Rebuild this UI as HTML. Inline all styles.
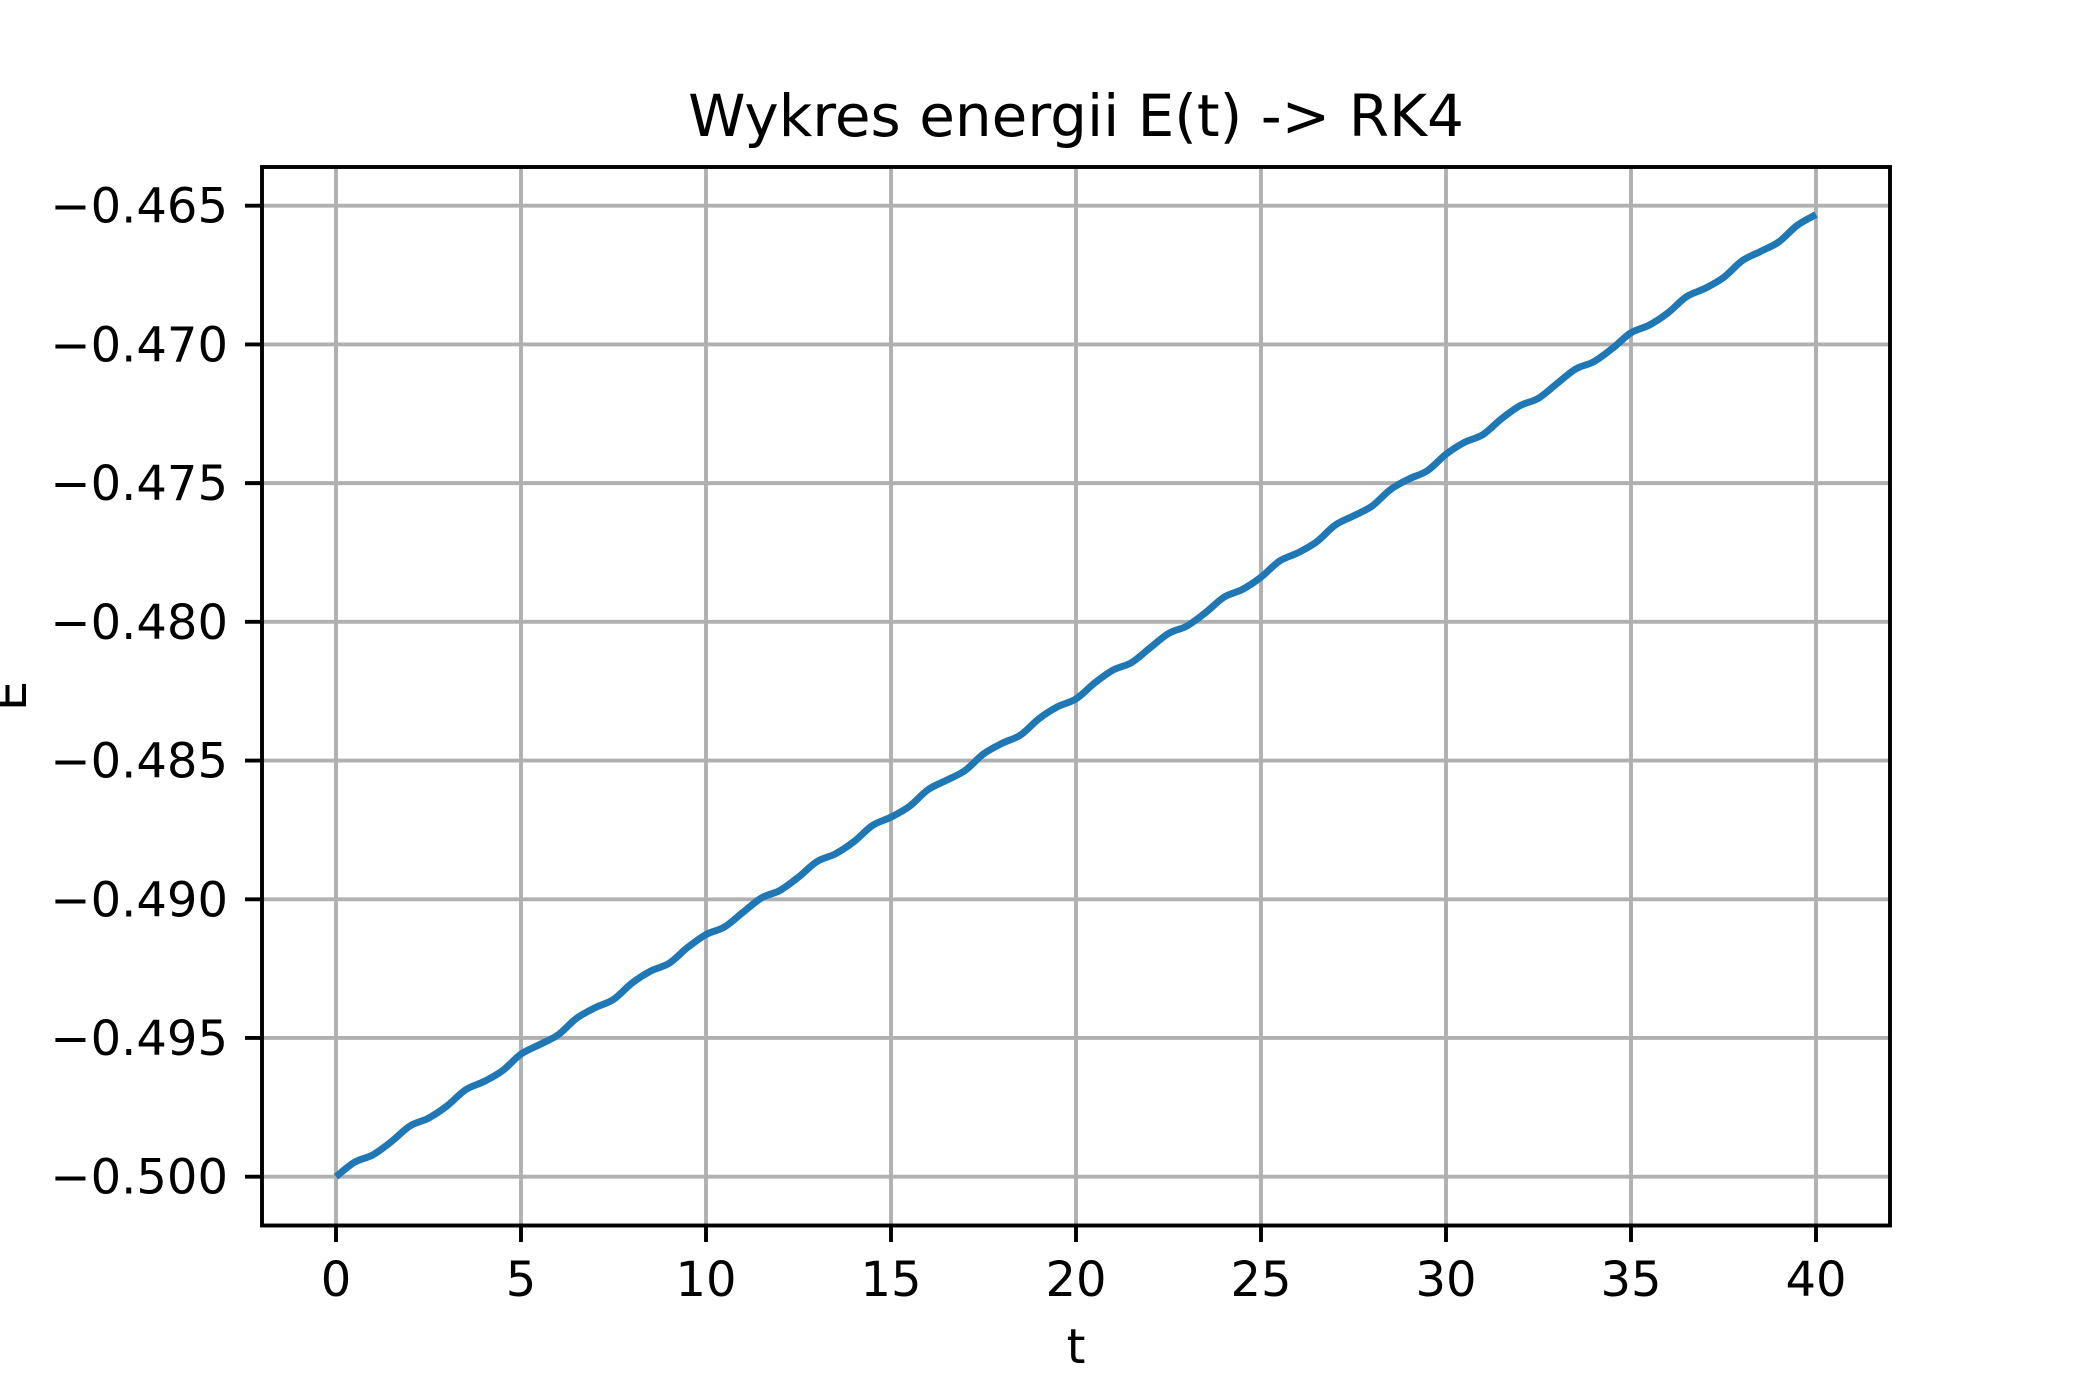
<!DOCTYPE html>
<html><head><meta charset="utf-8"><style>
html,body{margin:0;padding:0;background:#fff;}
svg{display:block;font-family:"DejaVu Sans","Liberation Sans",sans-serif;}
</style></head><body>
<svg id="chart" width="2100" height="1400" viewBox="0 0 2100 1400" xmlns="http://www.w3.org/2000/svg">
<rect width="2100" height="1400" fill="#fff"/>
<g id="grid"></g>
<g id="series"></g>
<rect x="262" y="167" width="1628" height="1058.5" fill="none" stroke="#000" stroke-width="3.9"/>
<g id="ticks"></g>
<text x="1076" y="136" font-size="58" text-anchor="middle">Wykres energii E(t) -&gt; RK4</text>
<text x="1076" y="1363" font-size="48" text-anchor="middle">t</text>
<text x="0" y="0" font-size="48" text-anchor="middle" transform="translate(26,696) rotate(-90)">E</text>
</svg>
<script>
const xTicks=[0,5,10,15,20,25,30,35,40];
const yTicks=[-0.500,-0.495,-0.490,-0.485,-0.480,-0.475,-0.470,-0.465];
const yTickLabels=["−0.500","−0.495","−0.490","−0.485","−0.480","−0.475","−0.470","−0.465"];
const tValues=[0,0.5,1,1.5,2,2.5,3,3.5,4,4.5,5,5.5,6,6.5,7,7.5,8,8.5,9,9.5,10,10.5,11,11.5,12,12.5,13,13.5,14,14.5,15,15.5,16,16.5,17,17.5,18,18.5,19,19.5,20,20.5,21,21.5,22,22.5,23,23.5,24,24.5,25,25.5,26,26.5,27,27.5,28,28.5,29,29.5,30,30.5,31,31.5,32,32.5,33,33.5,34,34.5,35,35.5,36,36.5,37,37.5,38,38.5,39,39.5,40];
const eValues=[-0.50000,-0.49948,-0.49921,-0.49873,-0.49817,-0.49789,-0.49745,-0.49687,-0.49657,-0.49618,-0.49558,-0.49524,-0.49489,-0.49429,-0.49391,-0.49361,-0.49302,-0.49259,-0.49231,-0.49174,-0.49127,-0.49100,-0.49047,-0.48995,-0.48968,-0.48920,-0.48864,-0.48836,-0.48792,-0.48734,-0.48704,-0.48665,-0.48605,-0.48571,-0.48536,-0.48476,-0.48438,-0.48408,-0.48349,-0.48306,-0.48278,-0.48221,-0.48174,-0.48147,-0.48094,-0.48042,-0.48015,-0.47967,-0.47911,-0.47883,-0.47839,-0.47781,-0.47751,-0.47712,-0.47652,-0.47618,-0.47583,-0.47523,-0.47485,-0.47455,-0.47396,-0.47353,-0.47325,-0.47268,-0.47221,-0.47194,-0.47141,-0.47089,-0.47062,-0.47014,-0.46958,-0.46930,-0.46886,-0.46828,-0.46798,-0.46759,-0.46699,-0.46665,-0.46630,-0.46570,-0.46532];
const X=t=>336+t*(1816-336)/40;
const Y=v=>1176.7+(v+0.5)*(205.7-1176.7)/0.035;
const NS="http://www.w3.org/2000/svg";
const grid=document.getElementById('grid'),ticks=document.getElementById('ticks'),series=document.getElementById('series');
function mk(tag,attrs,parent){const e=document.createElementNS(NS,tag);for(const k in attrs)e.setAttribute(k,attrs[k]);parent.appendChild(e);return e;}
xTicks.forEach(t=>{
 const g=mk('line',{x1:X(t),x2:X(t),y1:167,y2:1225,stroke:'#b0b0b0','stroke-width':3.9},grid);
 
 
 const tk=mk('line',{x1:X(t),x2:X(t),y1:1225,y2:1242,stroke:'#000','stroke-width':3.9},ticks);
 
 
 const tx=mk('text',{x:X(t),y:1296,'font-size':48,'text-anchor':'middle'},ticks);
 tx.textContent=String(t);
 
 
});
yTicks.forEach((v,i)=>{
 const g=mk('line',{x1:262,x2:1890,y1:Y(v),y2:Y(v),stroke:'#b0b0b0','stroke-width':3.9},grid);
 
 
 const tk=mk('line',{x1:245,x2:262,y1:Y(v),y2:Y(v),stroke:'#000','stroke-width':3.9},ticks);
 
 
 const tx=mk('text',{x:228,y:Y(v)+17,'font-size':48,'text-anchor':'end'},ticks);
 tx.textContent=yTickLabels[i];
 
 
});
const pts=tValues.map((t,i)=>[X(t),Y(eValues[i])]);
let d='M'+pts[0][0]+','+pts[0][1];
for(let i=0;i<pts.length-1;i++){
 const p0=pts[Math.max(0,i-1)],p1=pts[i],p2=pts[i+1],p3=pts[Math.min(pts.length-1,i+2)];
 const c1=[p1[0]+(p2[0]-p0[0])/6,p1[1]+(p2[1]-p0[1])/6],c2=[p2[0]-(p3[0]-p1[0])/6,p2[1]-(p3[1]-p1[1])/6];
 d+=' C'+c1+' '+c2+' '+p2;
}
const line=mk('path',{d:d,fill:'none',stroke:'#1f77b4','stroke-width':7,'stroke-linejoin':'round'},series);


</script>
</body></html>
